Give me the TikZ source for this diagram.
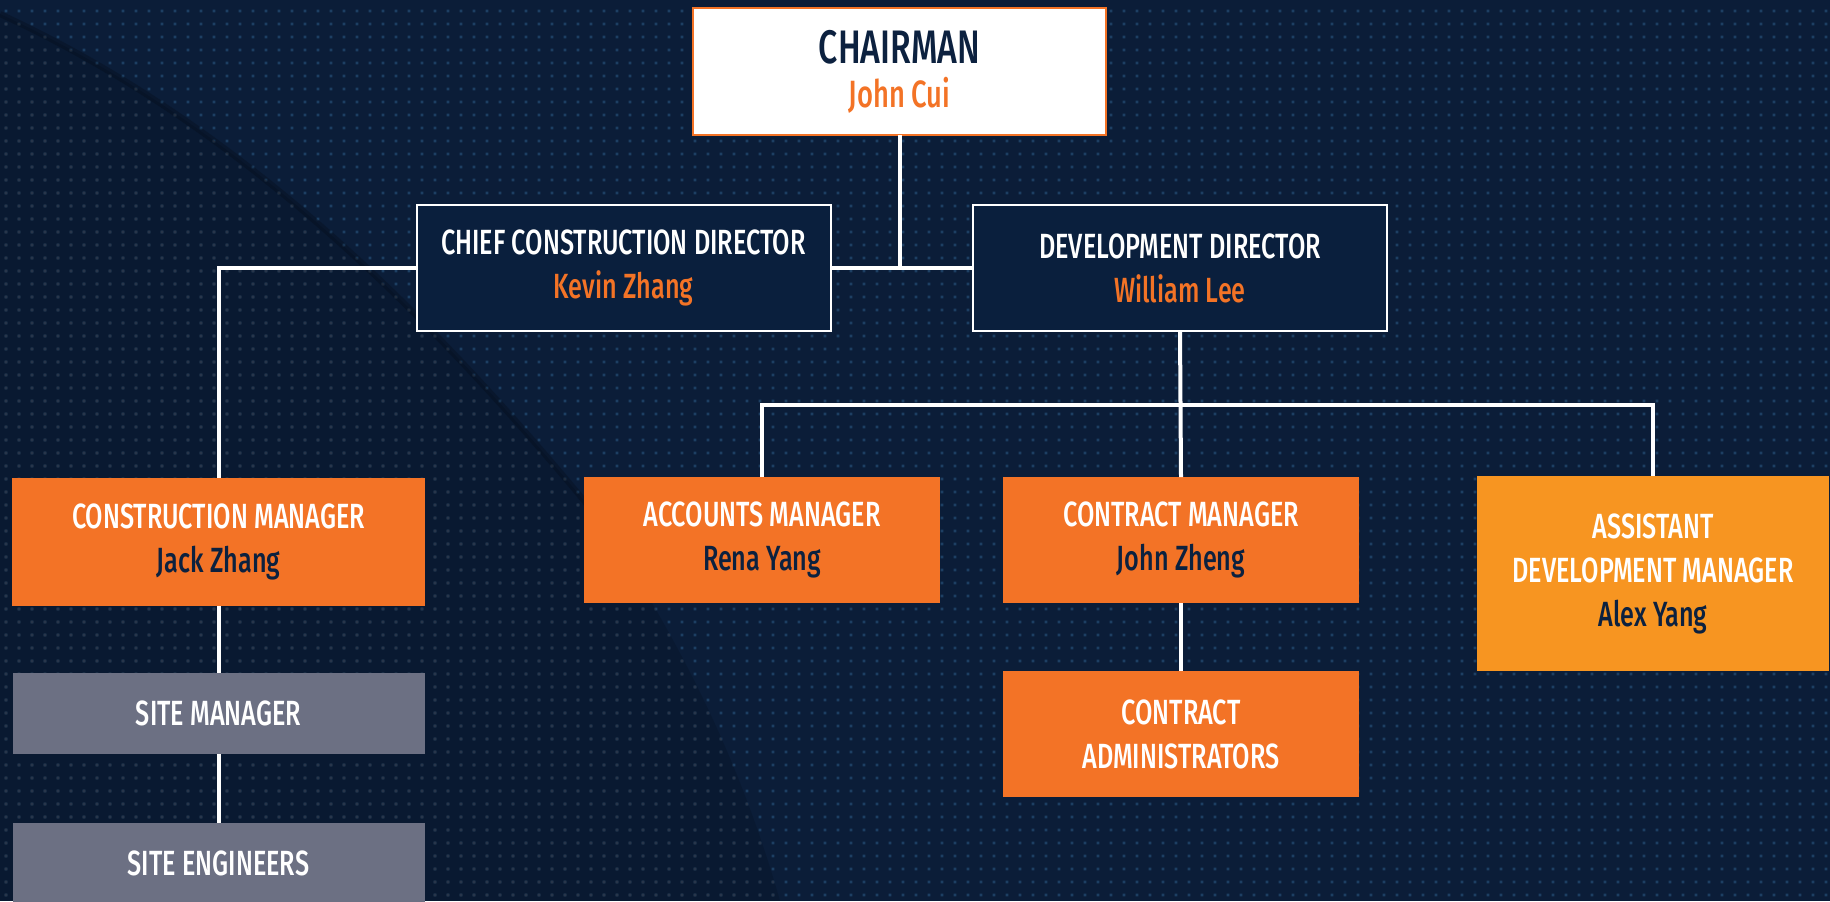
\documentclass[tikz,border=0pt]{standalone}
\usepackage{fontspec}
\setmainfont{Fira Sans}[FakeStretch=0.72, UprightFont={* Medium}]
\usetikzlibrary{positioning,patterns.meta}

\definecolor{navybg}{HTML}{0B1D38}
\definecolor{navybox}{HTML}{0A1F3D}
\definecolor{dotblue}{HTML}{1D3F63}
\definecolor{dotgrey}{HTML}{28354A}
\definecolor{brandorange}{HTML}{F37326}
\definecolor{lightorange}{HTML}{F79521}
\definecolor{slategray}{HTML}{6C7083}
\definecolor{inknavy}{HTML}{0C213F}

% small square dots for the backdrop
\tikzdeclarepattern{
  name=griddots, type=uncolored,
  bounding box={(0pt,0pt) and (6.25pt,6.25pt)},
  tile size={(6.25pt,6.25pt)},
  code={\fill (2.4pt,2.4pt) rectangle (3.8pt,3.8pt);}
}

\begin{document}
\begin{tikzpicture}[
  x=0.5pt, y=-0.5pt,
  font=\fontsize{17.5}{22}\selectfont,
  box/.style={align=center, inner sep=2pt, outer sep=0pt},
  chairbox/.style={box, draw=brandorange, line width=1pt, fill=white, text=inknavy,
    minimum width=206.5pt, minimum height=63.5pt},
  dirbox/.style={box, draw=white, line width=1pt, fill=navybox, text=white,
    minimum width=207pt, minimum height=63pt},
  mgrbox/.style={box, fill=brandorange, text=white, minimum width=178pt, minimum height=63pt},
  staffbox/.style={box, fill=slategray, text=white, minimum width=206pt, minimum height=40.5pt},
  link/.style={white, line width=2pt},
  node distance=34pt
]
\useasboundingbox (0,0) rectangle (1830,901);
% ---- backdrop ----
\fill[navybg] (0,0) rectangle (1830,901);
\fill[pattern=griddots, pattern color=dotblue] (0,0) rectangle (1830,901);
\begin{scope}
  \clip (0,14) .. controls (230,120) and (420,300) .. (600,520)
    .. controls (680,640) and (740,760) .. (780,901) -- (0,901) -- cycle;
  \fill[black, opacity=0.12] (0,0) rectangle (1830,901);
  \fill[pattern=griddots, pattern color=dotgrey] (0,0) rectangle (1830,901);
\end{scope}
\draw[black, opacity=0.18, line width=3pt] (0,14) .. controls (230,120) and (420,300) .. (600,520);
% ---- top level ----
\node[chairbox] (chair) at (899.5,71.5)
  {{\fontsize{23.5}{22}\selectfont CHAIRMAN}\\{\fontsize{19}{22}\selectfont\color{brandorange}John Cui}};
\node[dirbox] (ccd) at (623.5,268)
  {CHIEF CONSTRUCTION DIRECTOR\\\textcolor{brandorange}{Kevin Zhang}};
\node[dirbox] (dd) at (1180,268)
  {DEVELOPMENT DIRECTOR\\\textcolor{brandorange}{William Lee}};
% ---- construction branch ----
\node[mgrbox, minimum width=206.5pt, minimum height=64pt] (cm) at (218.5,542)
  {CONSTRUCTION MANAGER\\\textcolor{inknavy}{Jack Zhang}};
\node[staffbox, below=33.5pt of cm] (sm) {SITE MANAGER};
\node[staffbox, below=34.5pt of sm] (se) {SITE ENGINEERS};
% ---- development branch ----
\node[mgrbox] (am) at (762,540) {ACCOUNTS MANAGER\\\textcolor{inknavy}{Rena Yang}};
\node[mgrbox] (ctm) at (1181,540) {CONTRACT MANAGER\\\textcolor{inknavy}{John Zheng}};
\node[mgrbox, below=of ctm] (ca) {CONTRACT\\ADMINISTRATORS};
\node[mgrbox, fill=lightorange, minimum width=176pt, minimum height=97.5pt] (adm) at (1653,573.5)
  {ASSISTANT\\DEVELOPMENT MANAGER\\\textcolor{inknavy}{Alex Yang}};
% ---- reporting lines ----
\coordinate (bus) at (1181,405);
\draw[link] (ccd.east) -- (dd.west);
\draw[link] (chair.south) -- (chair.south |- ccd.east);
\draw[link] (ccd.west) -| (cm.north);
\draw[link] (cm) -- (sm);
\draw[link] (sm) -- (se);
\draw[link] (dd.south) -- (ctm.north);
\draw[link] (am.north) |- (bus) -| (adm.north);
\draw[link] (ctm) -- (ca);
\end{tikzpicture}
\end{document}
